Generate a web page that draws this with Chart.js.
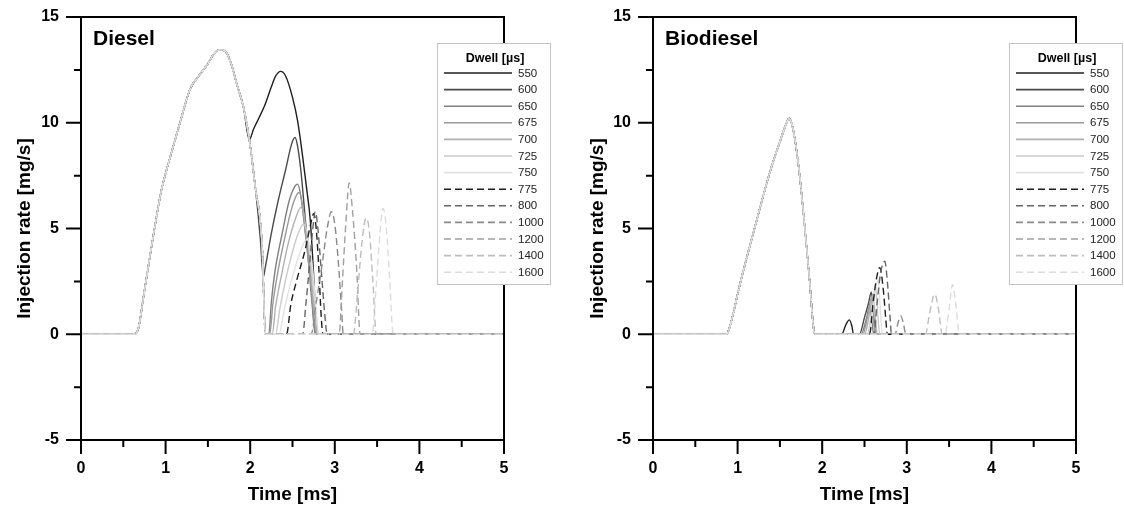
<!DOCTYPE html>
<html>
<head>
<meta charset="utf-8">
<script src="https://cdn.jsdelivr.net/npm/chart.js@4.4.1/dist/chart.umd.min.js"></script>
<style>
  html, body { margin: 0; padding: 0; background: #fff; }
  #wrap { width: 1124px; height: 509px; display: flex; }
  canvas { display: block; }
</style>
</head>
<body>
<div id="wrap">
  <canvas id="diesel" width="562" height="509"></canvas>
  <canvas id="biodiesel" width="562" height="509"></canvas>
</div>
<script>
// dwell times (legend) and their line styles
const dwell = ["550", "600", "650", "675", "700", "725", "750", "775", "800", "1000", "1200", "1400", "1600"];
const lineColors = ["#1e1e1e", "#4a4a4a", "#808080", "#9a9a9a", "#b0b0b0", "#cbcbcb", "#e2e2e2",
                    "#1e1e1e", "#666666", "#8a8a8a", "#a0a0a0", "#bdbdbd", "#dcdcdc"];
const isDashed = [false, false, false, false, false, false, false, true, true, true, true, true, true];

const xMajor = [0, 1, 2, 3, 4, 5];
const xMinor = [0.5, 1.5, 2.5, 3.5, 4.5];
const yMajor = [-5, 0, 5, 10, 15];
const yMinor = [-2.5, 2.5, 7.5, 12.5];

// ---- Diesel: [time ms, rate mg/s] ----
const dieselRise = [[0, 0], [0.63, 0], [0.68, 0.3], [0.74, 1.8], [0.84, 4.3], [0.95, 6.8], [1.0, 7.6], [1.07, 8.6],
  [1.17, 10.0], [1.29, 11.6], [1.39, 12.2], [1.5, 12.8], [1.57, 13.25], [1.64, 13.45], [1.72, 13.3],
  [1.79, 12.6], [1.84, 11.85], [1.92, 10.75], [1.99, 9.2]];
const dieselFall = [[2.06, 6.96], [2.14, 4.3], [2.18, 0]];

const diesel550 = [[2.04, 9.7], [2.1, 10.2], [2.17, 10.8], [2.25, 11.7], [2.3, 12.2], [2.36, 12.43], [2.42, 12.2],
  [2.5, 11.2], [2.56, 10.1], [2.62, 8.4], [2.67, 6.8], [2.71, 5.4], [2.74, 3.5], [2.76, 2.0], [2.79, 0], [5, 0]];
const diesel600 = [[2.06, 6.96], [2.12, 4.5], [2.155, 2.7], [2.18, 3.2], [2.25, 4.77], [2.33, 6.3], [2.42, 7.8],
  [2.49, 9.0], [2.53, 9.3], [2.56, 8.9], [2.6, 7.7], [2.65, 5.5], [2.7, 3.3], [2.74, 1.3], [2.77, 0], [5, 0]];
const diesel650 = [[2.22, 0], [2.25, 1.5], [2.29, 2.9], [2.38, 4.8], [2.46, 6.3], [2.53, 7.0], [2.56, 7.1], [2.6, 6.5],
  [2.64, 5.2], [2.68, 3.8], [2.73, 1.5], [2.77, 0], [5, 0]];
const diesel675 = [[2.23, 0], [2.27, 1.5], [2.32, 2.8], [2.4, 4.4], [2.48, 5.8], [2.55, 6.6], [2.58, 6.7], [2.62, 6.0],
  [2.66, 4.5], [2.7, 3.0], [2.75, 1.0], [2.78, 0], [5, 0]];
const diesel700 = [[2.26, 0], [2.3, 1.3], [2.37, 2.8], [2.45, 4.3], [2.53, 5.4], [2.6, 6.0], [2.63, 5.8], [2.67, 4.7],
  [2.71, 3.2], [2.76, 1.0], [2.79, 0], [5, 0]];
const diesel725 = [[2.3, 0], [2.35, 1.2], [2.42, 2.6], [2.5, 3.9], [2.57, 4.8], [2.63, 5.2], [2.66, 5.0], [2.7, 4.0],
  [2.74, 2.5], [2.78, 0.8], [2.8, 0], [5, 0]];
const diesel750 = [[2.34, 0], [2.4, 1.1], [2.47, 2.3], [2.55, 3.4], [2.62, 4.2], [2.67, 4.5], [2.7, 4.2], [2.74, 3.0],
  [2.78, 1.2], [2.81, 0], [5, 0]];
const diesel775 = [[2.43, 0], [2.48, 1.4], [2.55, 2.55], [2.65, 4.0], [2.72, 5.3], [2.75, 5.7], [2.78, 5.0],
  [2.81, 3.2], [2.84, 0.8], [2.86, 0], [5, 0]];
const diesel800 = [[2.62, 0], [2.66, 1.5], [2.7, 3.2], [2.74, 5.0], [2.77, 5.8], [2.8, 5.0], [2.84, 3.0], [2.88, 1.0],
  [2.91, 0], [5, 0]];
const diesel1000 = [[2.72, 0], [2.78, 1.5], [2.85, 3.3], [2.91, 5.0], [2.96, 5.8], [3.0, 5.2], [3.04, 3.5],
  [3.08, 1.2], [3.1, 0], [5, 0]];
const diesel1200 = [[3.05, 0], [3.09, 2.5], [3.13, 5.2], [3.17, 7.15], [3.21, 5.8], [3.26, 3.0], [3.3, 0], [5, 0]];
const diesel1400 = [[3.22, 0], [3.27, 2.0], [3.32, 4.3], [3.37, 5.5], [3.41, 4.8], [3.45, 2.5], [3.49, 0], [5, 0]];
const diesel1600 = [[3.44, 0], [3.49, 2.3], [3.53, 4.6], [3.57, 5.95], [3.61, 5.0], [3.65, 2.5], [3.69, 0], [5, 0]];

// ---- Biodiesel ----
const bioMain = [[0, 0], [0.87, 0], [0.9, 0.25], [0.95, 1.0], [1.0, 1.9], [1.1, 3.5], [1.2, 5.0], [1.3, 6.5],
  [1.4, 7.9], [1.5, 9.1], [1.57, 9.9], [1.61, 10.2], [1.65, 9.8], [1.7, 8.6], [1.75, 6.9], [1.8, 4.8],
  [1.85, 2.6], [1.89, 0.6], [1.91, 0]];
const bio550 = [[2.23, 0], [2.28, 0.45], [2.32, 0.68], [2.35, 0.4], [2.37, 0], [5, 0]];
const bio600 = [[2.44, 0], [2.5, 0.8], [2.55, 1.5], [2.58, 2.0], [2.61, 0.8], [2.63, 0], [5, 0]];
const bio650 = [[2.46, 0], [2.52, 0.7], [2.56, 1.3], [2.59, 0.5], [2.61, 0], [5, 0]];
const bio675 = [[2.48, 0], [2.54, 0.9], [2.58, 1.7], [2.61, 0.6], [2.63, 0], [5, 0]];
const bio700 = [[2.5, 0], [2.56, 1.0], [2.6, 1.9], [2.63, 0.7], [2.65, 0], [5, 0]];
const bio725 = [[2.53, 0], [2.59, 1.2], [2.63, 2.3], [2.66, 0.8], [2.68, 0], [5, 0]];
const bio750 = [[2.55, 0], [2.61, 1.4], [2.66, 2.6], [2.69, 1.0], [2.71, 0], [5, 0]];
const bio775 = [[2.56, 0], [2.6, 1.4], [2.64, 2.6], [2.68, 3.15], [2.72, 2.2], [2.75, 0.8], [2.77, 0], [5, 0]];
const bio800 = [[2.61, 0], [2.65, 1.5], [2.69, 2.9], [2.74, 3.45], [2.77, 2.5], [2.8, 0.9], [2.82, 0], [5, 0]];
const bio1000 = [[2.86, 0], [2.9, 0.6], [2.93, 0.87], [2.96, 0.5], [2.99, 0], [5, 0]];
const bio1200 = [[5, 0]];
const bio1400 = [[3.22, 0], [3.27, 1.0], [3.33, 1.9], [3.37, 1.3], [3.42, 0], [5, 0]];
const bio1600 = [[3.45, 0], [3.5, 1.2], [3.54, 2.35], [3.58, 1.4], [3.62, 0], [5, 0]];

const dieselSeries = [
  dieselRise.concat(diesel550),
  dieselRise.concat(diesel600),
  ...[diesel650, diesel675, diesel700, diesel725, diesel750, diesel775, diesel800,
      diesel1000, diesel1200, diesel1400, diesel1600].map(t => dieselRise.concat(dieselFall, t))
];
const bioSeries = [bio550, bio600, bio650, bio675, bio700, bio725, bio750, bio775, bio800,
  bio1000, bio1200, bio1400, bio1600].map(t => bioMain.concat(t));

const FONT = "'Liberation Sans', Arial, sans-serif";

function makeDatasets(series) {
  return series.map((pts, i) => ({
    label: dwell[i],
    data: pts.map(p => ({ x: p[0], y: p[1] })),
    borderColor: lineColors[i],
    borderWidth: 1.4,
    borderDash: isDashed[i] ? [7, 4] : [],
    pointRadius: 0,
    fill: false,
    order: dwell.length - i,   // later dwell drawn on top
    cubicInterpolationMode: "monotone"
  }));
}

function framePlugin(panelName) {
  return {
    id: "frame",
    afterDraw(chart) {
      const ctx = chart.ctx;
      const a = chart.chartArea;
      const sx = chart.scales.x, sy = chart.scales.y;
      ctx.save();
      ctx.strokeStyle = "#000";
      ctx.lineWidth = 2;
      ctx.strokeRect(a.left, a.top, a.right - a.left, a.bottom - a.top);
      ctx.beginPath();
      xMajor.forEach(v => { const px = sx.getPixelForValue(v); ctx.moveTo(px, a.bottom); ctx.lineTo(px, a.bottom + 14); });
      xMinor.forEach(v => { const px = sx.getPixelForValue(v); ctx.moveTo(px, a.bottom); ctx.lineTo(px, a.bottom + 7); });
      yMajor.forEach(v => { const py = sy.getPixelForValue(v); ctx.moveTo(a.left, py); ctx.lineTo(a.left - 15, py); });
      yMinor.forEach(v => { const py = sy.getPixelForValue(v); ctx.moveTo(a.left, py); ctx.lineTo(a.left - 7, py); });
      ctx.stroke();

      // panel name
      ctx.fillStyle = "#000";
      ctx.font = "bold 21px " + FONT;
      ctx.textAlign = "left";
      ctx.textBaseline = "alphabetic";
      ctx.fillText(panelName, a.left + 12, a.top + 28);

      // legend box
      const r = a.right;
      const boxL = r - 67, boxT = a.top + 26, boxR = r + 47, boxB = a.top + 268;
      ctx.fillStyle = "#fff";
      ctx.fillRect(boxL, boxT, boxR - boxL, boxB - boxT);
      ctx.strokeStyle = "#c4c4c4";
      ctx.lineWidth = 1;
      ctx.strokeRect(boxL + 0.5, boxT + 0.5, boxR - boxL - 1, boxB - boxT - 1);
      ctx.fillStyle = "#000";
      ctx.font = "bold 12.5px " + FONT;
      ctx.textAlign = "center";
      ctx.textBaseline = "middle";
      ctx.fillText("Dwell [µs]", r - 9, a.top + 42);
      ctx.font = "11.5px " + FONT;
      ctx.textAlign = "left";
      chart.data.datasets.forEach((ds, i) => {
        const y = a.top + 56 + i * 16.6;
        ctx.beginPath();
        ctx.strokeStyle = ds.borderColor;
        ctx.lineWidth = 1.6;
        ctx.setLineDash(ds.borderDash);
        ctx.moveTo(r - 60, y);
        ctx.lineTo(r + 8, y);
        ctx.stroke();
        ctx.setLineDash([]);
        ctx.fillStyle = "#222";
        ctx.fillText(ds.label, r + 14, y + 0.5);
      });
      ctx.restore();
    }
  };
}

function makeChart(id, series, panelName, yWidth, padRight, titlePad) {
  new Chart(document.getElementById(id), {
    type: "line",
    data: { datasets: makeDatasets(series) },
    options: {
      responsive: false,
      animation: false,
      devicePixelRatio: 1,
      layout: { padding: { left: 0, right: padRight, top: 17, bottom: 0 } },
      plugins: { legend: { display: false }, tooltip: { enabled: false } },
      scales: {
        x: {
          type: "linear", min: 0, max: 5,
          grid: { display: false, drawTicks: true, tickLength: 14 },
          border: { display: false },
          ticks: { stepSize: 1, padding: 5, color: "#000", font: { family: FONT, size: 16, weight: "bold" } },
          title: { display: true, text: "Time [ms]", color: "#000", padding: { top: 0, bottom: 3 },
                   font: { family: FONT, size: 19, weight: "bold" } },
          afterFit: s => { s.height = 69; }
        },
        y: {
          type: "linear", min: -5, max: 15,
          grid: { display: false, drawTicks: true, tickLength: 15 },
          border: { display: false },
          ticks: { stepSize: 5, padding: 7, color: "#000", font: { family: FONT, size: 16, weight: "bold" } },
          title: { display: true, text: "Injection rate [mg/s]", color: "#000", padding: { top: titlePad, bottom: 0 },
                   font: { family: FONT, size: 19, weight: "bold" } },
          afterFit: s => { s.width = yWidth; }
        }
      }
    },
    plugins: [framePlugin(panelName)]
  });
}

makeChart("diesel", dieselSeries, "Diesel", 81, 58, 13);
makeChart("biodiesel", bioSeries, "Biodiesel", 91, 48, 24);
</script>
</body>
</html>
